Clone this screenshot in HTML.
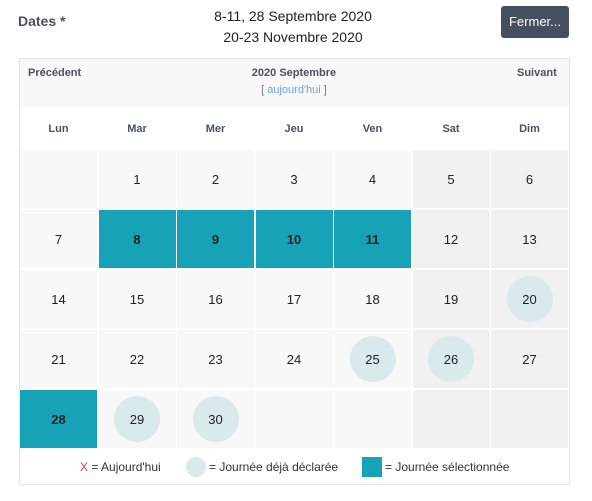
<!DOCTYPE html>
<html><head><meta charset="utf-8"><style>
body{margin:0;width:592px;height:501px;background:#fff;font-family:"Liberation Sans",sans-serif;position:relative;overflow:hidden}
.a{position:absolute}
.cell{position:absolute;display:flex;align-items:center;justify-content:center;font-size:13px;color:#222;background:#f8f8f8}
.we{background:#f1f1f1}
.sel{background:#17a2b8;font-weight:bold}
.dec span{display:flex;align-items:center;justify-content:center;width:46px;height:46px;border-radius:50%;background:#d9eaec}
.dn{position:absolute;top:123px;width:77px;text-align:center;font-size:11px;font-weight:bold;color:#4a5068}
</style></head><body>
<div class="a" style="left:18px;top:13px;font-size:14px;font-weight:bold;color:#4a5068">Dates *</div>
<div class="a" style="left:186px;top:6px;width:214px;text-align:center;font-size:14px;line-height:21px;color:#222">8-11, 28 Septembre 2020<br>20-23 Novembre 2020</div>
<div class="a" style="left:501px;top:6px;width:68px;height:32px;background:#454f60;border-radius:3px;color:#fff;font-size:13px;line-height:32px;text-align:center">Fermer...</div>
<div class="a" style="left:19px;top:58px;width:549px;height:425px;border:1px solid #e6e6e6;background:#fff"></div>
<div class="a" style="left:20px;top:59px;width:549px;height:48px;background:#f8f8f8"></div>
<div class="a" style="left:28px;top:67px;font-size:11px;font-weight:bold;color:#4a5068">Précédent</div>
<div class="a" style="left:194px;top:67px;width:200px;text-align:center;font-size:11px;font-weight:bold;color:#4a5068">2020 Septembre</div>
<div class="a" style="left:194px;top:84px;width:200px;text-align:center;font-size:11px;color:#6a7a90">[ <span style="color:#6fa0d8">aujourd'hui</span> ]</div>
<div class="a" style="left:517px;top:67px;font-size:11px;font-weight:bold;color:#4a5068">Suivant</div>
<div id="g"></div>
<div class="a" style="left:0;top:459px;width:592px;height:18px;font-size:12px;color:#333">
<span class="a" style="left:80px;top:1px"><span style="color:#e53935">X</span> = Aujourd'hui</span>
<span class="a" style="left:186px;top:-2px;width:20px;height:20px;border-radius:50%;background:#d9eaec"></span>
<span class="a" style="left:209px;top:1px">= Journée déjà déclarée</span>
<span class="a" style="left:362px;top:-2px;width:20px;height:20px;background:#17a2b8"></span>
<span class="a" style="left:385px;top:1px">= Journée sélectionnée</span>
</div>
<script>
const dayNames=["Lun","Mar","Mer","Jeu","Ven","Sat","Dim"];
const firstWeekday=1; // Tuesday index
const daysInMonth=30;
const selectedDays=[8,9,10,11,28];
const declaredDays=[20,25,26,29,30];
const g=document.getElementById('g');
const colX=i=>20+i*78.5, rowY=r=>150+r*60;
dayNames.forEach((n,i)=>{const d=document.createElement('div');d.className='dn';d.style.left=colX(i)+'px';d.textContent=n;


g.appendChild(d);});
for(let k=0;k<35;k++){
  const c=k%7,r=Math.floor(k/7),day=k-firstWeekday+1;
  const el=document.createElement('div');
  el.className='cell'+(c>=5?' we':'');
  el.style.left=colX(c)+'px';el.style.top=rowY(r)+'px';el.style.width='77px';el.style.height='58px';
  if(day>=1&&day<=daysInMonth){
    if(selectedDays.includes(day)){el.classList.add('sel');el.textContent=day;}
    else if(declaredDays.includes(day)){el.classList.add('dec');const s=document.createElement('span');s.textContent=day;el.appendChild(s);}
    else el.textContent=day;
    
    
  } else {
    
    
  }
  g.appendChild(el);
}
</script>
</body></html>
